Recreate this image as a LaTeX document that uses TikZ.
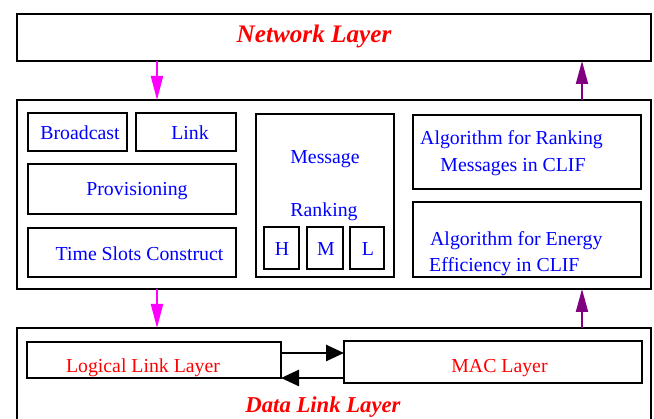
\documentclass[tikz,border=0pt]{standalone}
\usepackage{fontspec}
\setmainfont{Liberation Serif}
\usetikzlibrary{arrows.meta}
\definecolor{pinkarr}{RGB}{255,0,255}
\definecolor{purplearr}{RGB}{128,0,128}
\begin{document}
\begin{tikzpicture}[x=1pt, y=-1pt,
	box/.style={rectangle, draw=black, line width=2.8pt, inner sep=0pt, outer sep=0pt},
	txt/.style={inner sep=0pt, anchor=base, text=blue, font=\fontsize{19.8}{25}\selectfont},
	redtxt/.style={txt, text=red},
	layertxt/.style={inner sep=0pt, anchor=base, text=red, font=\fontsize{25.2}{28}\selectfont\bfseries\itshape},
	downarrow/.style={draw=pinkarr, line width=2pt, -{Triangle[length=24pt,width=12pt]}},
	uparrow/.style={draw=purplearr, line width=2pt, -{Triangle[length=23pt,width=12pt]}},
	xarrow/.style={draw=black, line width=2.6pt, -{Triangle[length=18pt,width=16pt]}}]
			\useasboundingbox (0,0) rectangle (654,419);
			\clip (0,0) rectangle (654,419);
			
			\node[box, minimum width=634pt, minimum height=47pt] (net) at (334,37.5){};
			\node[box, minimum width=634pt, minimum height=189pt] (mid) at (334,194.5){};
			\node[box, minimum width=634pt, minimum height=132pt] (dll) at (334,394){};
			
			\node[box, minimum width=99pt, minimum height=38pt] (bcast) at (77.5,132){};
			\node[box, minimum width=100pt, minimum height=38pt] (link) at (186,132){};
			\node[box, minimum width=208pt, minimum height=50pt] (prov) at (132,189){};
			\node[box, minimum width=208pt, minimum height=49pt] (tslot) at (132,252.5){};
			\node[box, minimum width=138pt, minimum height=163pt] (msg) at (325,195.5){};
			\node[box, minimum width=35pt, minimum height=42pt] (high) at (281.5,248){};
			\node[box, minimum width=36pt, minimum height=42pt] (med) at (325,248){};
			\node[box, minimum width=34pt, minimum height=42pt] (low) at (367,248){};
			\node[box, minimum width=228pt, minimum height=74pt] (algrank) at (527,152){};
			\node[box, minimum width=228pt, minimum height=75pt] (algen) at (527,239.5){};
			\node[box, minimum width=254pt, minimum height=36pt] (lll) at (154,360){};
			\node[box, minimum width=298pt, minimum height=42pt] (mac) at (493,362){};
			
			\node[layertxt] (nettxt) at (314,43){Network Layer};
			\node[layertxt, font=\fontsize{22.7}{26}\selectfont\bfseries\itshape] (dlltxt) at (323,413){Data Link Layer};
			\node[txt] (bcasttxt) at (80,140){Broadcast};
			\node[txt] (linktxt) at (190,140){Link};
			\node[txt] (provtxt) at (137,196){Provisioning};
			\node[txt] (tslottxt) at (139.5,261){Time Slots Construct};
			\node[txt] (msgtxt) at (325,164){Message};
			\node[txt] (ranktxt) at (324,217){Ranking};
			\node[txt] (hightxt) at (282,256){H};
			\node[txt] (medtxt) at (326,256){M};
			\node[txt] (lowtxt) at (368,256){L};
			\node[txt] (algranka) at (511.5,145){Algorithm for Ranking};
			\node[txt] (algrankb) at (513,172){Messages in CLIF};
			\node[txt, anchor=base west] (algena) at (430,246){Algorithm for Energy};
			\node[txt, anchor=base west] (algenb) at (429,272){Efficiency in CLIF};
			\node[redtxt] (llltxt) at (143,373){Logical Link Layer};
			\node[redtxt] (mactxt) at (499.5,373){MAC Layer};
			
			\draw[downarrow] ([xshift=140pt]net.south west) -- ([xshift=140pt]mid.north west);
			\draw[uparrow] ([xshift=-69pt]mid.north east) -- ([xshift=-69pt]net.south east);
			\draw[downarrow] ([xshift=140pt]mid.south west) -- ([xshift=140pt]dll.north west);
			\draw[uparrow] ([xshift=-69pt]dll.north east) -- ([xshift=-69pt]mid.south east);
			\draw[xarrow] ([yshift=7pt]lll.east) -- ([yshift=7pt]lll.east -| mac.west);
			\draw[xarrow] (lll.south east -| mac.west) -- (lll.south east);
			\end{tikzpicture}
\end{document}
